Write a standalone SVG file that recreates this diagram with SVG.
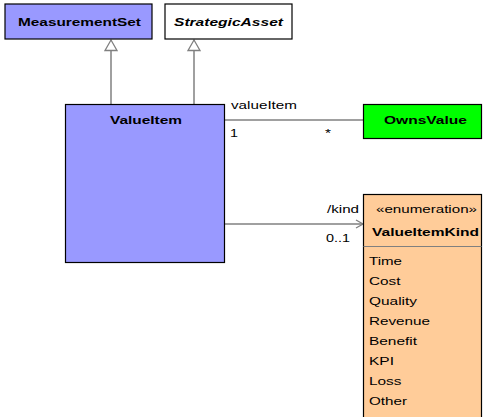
<svg xmlns="http://www.w3.org/2000/svg" width="483" height="417" viewBox="0 0 483 417">
<style>
.t{font-family:"Liberation Sans",Arial,sans-serif;font-size:11.5px;fill:#000}
.b{font-weight:bold}
.i{font-style:italic}
.box{stroke:#000;stroke-width:1.2}
.ln{stroke:#808080;stroke-width:1.5;fill:none}
</style>
<defs>
<marker id="gen" markerWidth="14" markerHeight="14" refX="12" refY="7" orient="auto" markerUnits="userSpaceOnUse" viewBox="0 0 14 14">
<path d="M12,7 L1.5,1 L1.5,13 Z" fill="#fff" stroke="#808080" stroke-width="1.3"/>
</marker>
<marker id="open" markerWidth="10" markerHeight="10" refX="8" refY="5" orient="auto" markerUnits="userSpaceOnUse" viewBox="0 0 10 10">
<path d="M1,1 L8,5 L1,9" fill="none" stroke="#808080" stroke-width="1.3"/>
</marker>
</defs>
<g id="connectors">
<path class="ln" d="M111,104 V40" marker-end="url(#gen)"/>
<path class="ln" d="M194,104 V40" marker-end="url(#gen)"/>
<path class="ln" d="M225,120 H363"/>
<path class="ln" d="M225,224 H363" marker-end="url(#open)"/>
<text class="t" x="231" y="109" textLength="66" lengthAdjust="spacingAndGlyphs">valueItem</text>
<text class="t" x="230" y="137" textLength="8" lengthAdjust="spacingAndGlyphs">1</text>
<text class="t" x="325" y="137" textLength="6" lengthAdjust="spacingAndGlyphs">*</text>
<text class="t" x="327" y="213" textLength="32" lengthAdjust="spacingAndGlyphs">/kind</text>
<text class="t" x="326" y="242" textLength="24" lengthAdjust="spacingAndGlyphs">0..1</text>
</g>
<g id="MeasurementSet">
<rect class="box" x="5" y="4" width="147" height="35" fill="#9999FF"/>
<text class="t b" x="18" y="26" textLength="123" lengthAdjust="spacingAndGlyphs">MeasurementSet</text>
</g>
<g id="StrategicAsset">
<rect class="box" x="165" y="4" width="127" height="35" fill="#FFFFFF"/>
<text class="t b i" x="174" y="26" textLength="109" lengthAdjust="spacingAndGlyphs">StrategicAsset</text>
</g>
<g id="ValueItem">
<rect class="box" x="65.5" y="104.5" width="159" height="158" fill="#9999FF"/>
<text class="t b" x="110" y="124" textLength="72" lengthAdjust="spacingAndGlyphs">ValueItem</text>
</g>
<g id="OwnsValue">
<rect class="box" x="363.5" y="104.5" width="118" height="34" fill="#00FF00"/>
<text class="t b" x="384" y="124" textLength="83" lengthAdjust="spacingAndGlyphs">OwnsValue</text>
</g>
<g id="ValueItemKind">
<rect class="box" x="363.5" y="194.5" width="118" height="230" fill="#FFCC99"/>
<line x1="363.5" y1="246.5" x2="481.5" y2="246.5" stroke="#808080" stroke-width="1.2"/>
<text class="t" x="376" y="213" textLength="101" lengthAdjust="spacingAndGlyphs">«enumeration»</text>
<text class="t b" x="372" y="236" textLength="107" lengthAdjust="spacingAndGlyphs">ValueItemKind</text>
<text class="t" x="369" y="265" textLength="33" lengthAdjust="spacingAndGlyphs">Time</text>
<text class="t" x="369" y="285" textLength="31.5" lengthAdjust="spacingAndGlyphs">Cost</text>
<text class="t" x="369" y="305" textLength="48" lengthAdjust="spacingAndGlyphs">Quality</text>
<text class="t" x="369" y="325" textLength="61" lengthAdjust="spacingAndGlyphs">Revenue</text>
<text class="t" x="369" y="345" textLength="48" lengthAdjust="spacingAndGlyphs">Benefit</text>
<text class="t" x="369" y="365" textLength="25" lengthAdjust="spacingAndGlyphs">KPI</text>
<text class="t" x="369" y="385" textLength="32.5" lengthAdjust="spacingAndGlyphs">Loss</text>
<text class="t" x="369" y="405" textLength="38" lengthAdjust="spacingAndGlyphs">Other</text>
</g>
</svg>
